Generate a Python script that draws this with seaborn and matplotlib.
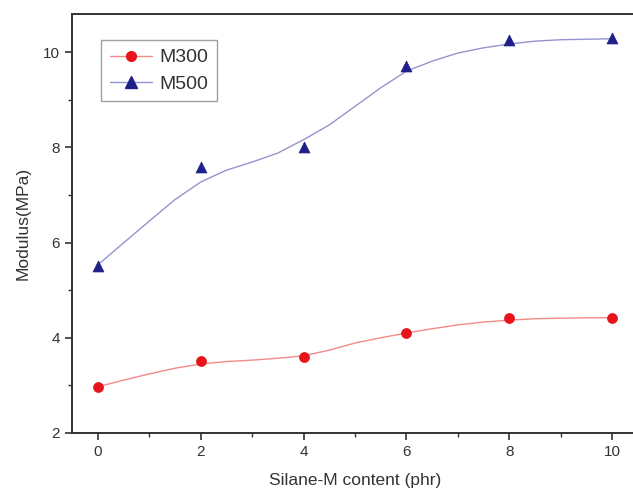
import numpy as np
import pandas as pd
import matplotlib
matplotlib.use("Agg")
import matplotlib.pyplot as plt
from matplotlib.lines import Line2D
from matplotlib.ticker import MultipleLocator
import seaborn as sns

# measured points
content = [0, 2, 4, 6, 8, 10]
m300 = [2.97, 3.51, 3.60, 4.10, 4.41, 4.42]
m500 = [5.51, 7.58, 8.00, 9.71, 10.26, 10.30]

# smooth fitted curves
curve_x = [0, 0.5, 1, 1.5, 2, 2.5, 3, 3.5, 4, 4.5, 5, 5.5, 6, 6.5, 7, 7.5, 8, 8.5, 9, 9.5, 10]
curve_m300 = [2.97, 3.11, 3.24, 3.36, 3.45, 3.50, 3.53, 3.57, 3.62, 3.74, 3.89, 4.00, 4.10,
              4.19, 4.27, 4.33, 4.37, 4.40, 4.41, 4.42, 4.42]
curve_m500 = [5.53, 5.99, 6.45, 6.90, 7.27, 7.52, 7.69, 7.88, 8.16, 8.47, 8.86, 9.25, 9.60,
              9.81, 9.98, 10.09, 10.17, 10.23, 10.26, 10.27, 10.28]

series_names = ["M300", "M500"]

sns.set_style("ticks")
plt.rcParams['font.family'] = ['Liberation Sans', 'DejaVu Sans']

fig = plt.figure(figsize=(6.33, 4.93), dpi=100)
ax = fig.add_axes([72/633, 1-433/493, (638-72)/633, (433-14)/493])

red_pt = "#e8141c"
red_ln = "#f28a8a"
blue_pt = "#1f1f8a"
blue_ln = "#9494d0"

sns.lineplot(x=curve_x, y=curve_m300, ax=ax, color=red_ln, linewidth=1.0, legend=False)
sns.lineplot(x=curve_x, y=curve_m500, ax=ax, color=blue_ln, linewidth=1.0, legend=False)
sns.scatterplot(x=content, y=m300, ax=ax, color=red_pt, marker="o", s=52, edgecolor=red_pt,
                linewidth=0.5, legend=False, zorder=3)
sns.scatterplot(x=content, y=m500, ax=ax, color=blue_pt, marker="^", s=62, edgecolor=blue_pt,
                linewidth=0.5, legend=False, zorder=3)

ax.set_xlim(-0.5, 10.5)
ax.set_ylim(2, 10.8)
ax.xaxis.set_major_locator(MultipleLocator(2))
ax.xaxis.set_minor_locator(MultipleLocator(1))
ax.yaxis.set_major_locator(MultipleLocator(2))
ax.yaxis.set_minor_locator(MultipleLocator(1))
ax.tick_params(which="major", direction="out", length=5, width=1.2, color="#333333",
               labelsize=11, labelcolor="#333333", top=False, right=False)
ax.tick_params(which="minor", direction="out", length=3, width=1.0, color="#333333",
               top=False, right=False)
for sp in ax.spines.values():
    sp.set_color("#333333")
    sp.set_linewidth(1.4)

ax.set_xlabel("Silane-M content (phr)", fontsize=12.5, color="#333333", labelpad=10)
ax.set_ylabel("Modulus(MPa)", fontsize=12.5, color="#333333", labelpad=9)

handles = [
    Line2D([0], [0], color=red_ln, lw=1.0, marker="o", markersize=7,
           markerfacecolor=red_pt, markeredgecolor=red_pt),
    Line2D([0], [0], color=blue_ln, lw=1.0, marker="^", markersize=8,
           markerfacecolor=blue_pt, markeredgecolor=blue_pt),
]
leg = ax.legend(handles, series_names, loc="upper left", bbox_to_anchor=(0.051, 0.938),
                borderaxespad=0, fontsize=14, frameon=True, fancybox=False,
                handlelength=2.2, handletextpad=0.35, borderpad=0.45, labelspacing=0.45,
                labelcolor="#333333")
leg.get_frame().set_edgecolor("#888888")
leg.get_frame().set_linewidth(1.0)

fig.savefig("out.png", dpi=100)
